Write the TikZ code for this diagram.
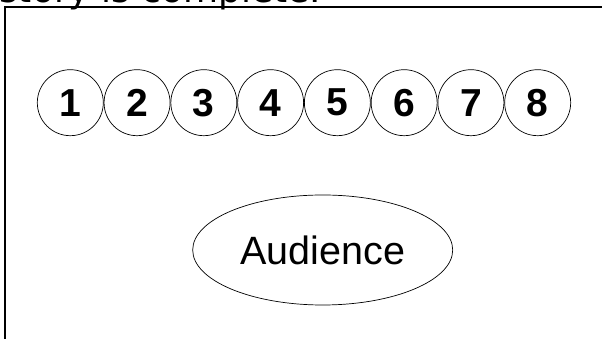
\documentclass[tikz,border=0pt]{standalone}
\usepackage{fontspec}
\setmainfont{Liberation Sans}
\newfontfamily\topfont{DejaVu Sans}
\usetikzlibrary{shapes.geometric}
\begin{document}
\begin{tikzpicture}[x=1pt,y=1pt,
  numcircle/.style={circle,draw,line width=0.7pt,minimum size=66pt,inner sep=0pt,
    font=\bfseries\fontsize{39}{39}\selectfont},
  audience/.style={ellipse,draw,line width=0.7pt,minimum width=260pt,minimum height=110pt,
    inner sep=0pt,font=\fontsize{39.5}{39.5}\selectfont}]
\useasboundingbox (0,0) rectangle (602,339);
\clip (0,0) rectangle (602,339);
% cut-off caption at the top
\node[anchor=base west,inner sep=0pt,font=\topfont\fontsize{36}{36}\selectfont] (caption) at (-1,336.5) {story is complete.};
% frame
\draw[line width=2pt] (5,-5) -- (5,331.7) -- (610,331.7);
% numbered circles
\foreach \i in {1,...,8}{
  \node[numcircle] (c\i) at ({70.3+66.77*(\i-1)},236.3) {\i};
}
% audience
\node[audience] (aud) at (322.7,89) {Audience};
\end{tikzpicture}
\end{document}
